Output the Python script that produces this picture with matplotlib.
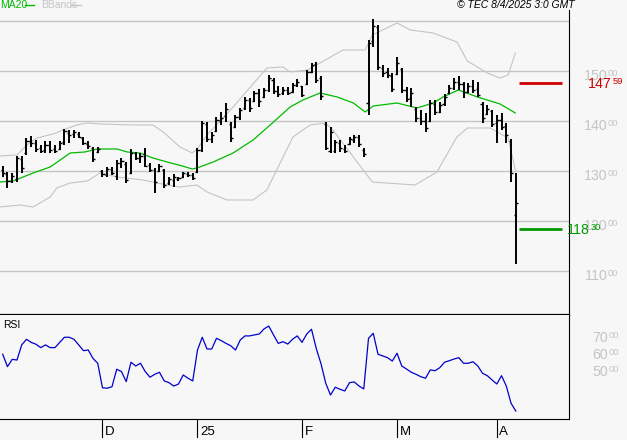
import matplotlib.pyplot as plt
import numpy as np

plt.rcParams['font.family'] = ['Liberation Sans', 'DejaVu Sans']

# daily OHLC, bar index 0 = early Nov 2024, last = 8 Apr 2025
highs = [131.0, 129.8, 129.6, 133.0, 133.0, 136.6, 137.0, 136.2, 135.2, 136.0,
         136.0, 135.2, 136.0, 138.4, 138.2, 138.2, 137.8, 136.8, 136.0, 134.8,
         134.8, 130.2, 130.8, 130.8, 132.2, 132.6, 131.8, 134.4, 133.8, 133.6,
         134.6, 131.6, 130.6, 131.4, 130.4, 128.8, 129.4, 128.8, 129.8, 129.8,
         129.6, 134.6, 140.0, 139.8, 137.8, 140.8, 141.8, 143.6, 139.8, 141.2,
         142.6, 144.8, 144.6, 146.0, 146.4, 146.6, 149.2, 148.6, 147.0, 146.8,
         146.8, 147.6, 148.4, 147.0, 150.2, 151.6, 151.8, 149.0, 139.8, 138.8,
         136.2, 136.2, 135.2, 136.8, 137.2, 137.2, 134.6, 156.2, 160.4, 159.2,
         151.2, 150.6, 149.6, 152.8, 150.6, 146.8, 146.6, 142.8, 142.2, 141.6,
         144.2, 144.2, 143.8, 145.4, 147.2, 148.6, 149.0, 147.8, 147.6, 148.2,
         147.8, 143.8, 143.2, 142.2, 141.2, 141.6, 139.6, 136.4, 129.6]
lows = [128.8, 126.6, 127.6, 127.8, 129.6, 133.2, 134.8, 133.8, 133.6, 133.6,
        133.6, 133.6, 134.2, 135.2, 135.6, 136.6, 136.6, 135.2, 134.4, 131.8,
        133.6, 128.8, 128.8, 129.2, 128.2, 130.6, 127.6, 129.4, 132.2, 131.6,
        130.8, 129.8, 125.6, 129.8, 126.6, 127.2, 126.8, 128.0, 128.6, 128.8,
        128.2, 129.6, 133.8, 135.8, 135.6, 137.8, 139.2, 139.8, 135.8, 138.6,
        140.2, 142.2, 141.8, 143.8, 142.8, 144.6, 145.8, 145.4, 144.8, 145.2,
        145.2, 145.6, 146.8, 144.8, 147.2, 149.6, 147.6, 144.2, 134.2, 133.6,
        133.6, 133.8, 133.6, 135.2, 135.6, 134.8, 132.8, 141.2, 154.8, 150.2,
        148.8, 148.6, 145.8, 149.2, 145.6, 143.8, 142.8, 139.8, 139.2, 137.8,
        139.8, 141.2, 141.6, 143.0, 145.4, 146.2, 146.2, 144.6, 145.6, 145.6,
        144.8, 139.6, 141.2, 138.8, 135.6, 138.2, 135.6, 127.8, 111.4]
opens = [130.2, 129.4, 128.0, 128.4, 132.4, 133.6, 136.0, 135.6, 134.6, 134.2,
         135.2, 134.4, 134.4, 135.8, 137.6, 137.4, 137.4, 136.6, 135.4, 134.6,
         133.8, 130.0, 129.2, 130.4, 129.0, 131.6, 131.4, 129.6, 133.6, 132.6,
         133.4, 131.2, 130.2, 130.0, 130.2, 127.6, 128.2, 128.4, 128.8, 129.4,
         129.2, 129.8, 134.2, 139.4, 136.4, 138.0, 140.0, 141.0, 139.4, 138.8,
         140.8, 142.6, 144.2, 144.0, 145.6, 144.8, 146.2, 148.2, 146.0, 145.6,
         146.2, 145.8, 147.2, 147.0, 147.4, 149.8, 151.4, 148.6, 139.4, 134.0,
         134.0, 135.6, 134.4, 135.4, 136.2, 136.8, 134.2, 143.6, 156.0, 158.8,
         150.6, 149.8, 149.0, 149.4, 150.4, 146.2, 144.6, 142.4, 140.6, 140.0,
         140.0, 143.4, 141.8, 143.4, 145.6, 146.6, 147.8, 147.4, 145.8, 147.0,
         146.4, 143.4, 141.4, 142.0, 139.6, 140.2, 139.0, 136.0, 121.2]
closes = [129.6, 128.0, 129.0, 132.6, 130.6, 136.0, 135.6, 134.4, 134.0, 135.2,
          134.2, 134.0, 135.6, 138.0, 137.2, 137.8, 136.8, 135.6, 135.0, 132.4,
          134.4, 129.4, 130.4, 129.6, 131.6, 132.0, 128.2, 133.6, 132.6, 133.0,
          131.0, 130.2, 127.8, 131.0, 127.2, 128.4, 128.8, 128.6, 129.6, 129.2,
          128.6, 134.2, 139.6, 136.4, 137.2, 140.2, 140.6, 142.4, 136.6, 140.8,
          142.2, 144.2, 142.6, 145.6, 144.0, 146.2, 148.6, 146.0, 145.4, 146.2,
          145.6, 147.2, 147.8, 145.2, 149.8, 151.2, 148.2, 145.0, 134.6, 137.8,
          135.8, 134.6, 134.0, 136.4, 136.8, 135.4, 133.4, 155.6, 159.0, 150.8,
          149.6, 149.2, 146.4, 151.6, 146.2, 144.4, 145.6, 140.6, 140.0, 138.6,
          143.6, 141.8, 143.2, 144.8, 146.6, 147.8, 147.4, 145.8, 147.0, 146.2,
          145.2, 140.6, 142.4, 139.4, 140.2, 138.8, 137.2, 129.6, 123.6]

rsi = [60.6, 53.3, 57.6, 57.2, 66.1, 69.4, 67.6, 66.5, 64.5, 66.1,
       64.5, 64.5, 67.6, 70.6, 70.6, 69.4, 66.1, 62.7, 63.1, 58.2,
       55.3, 40.9, 40.6, 41.5, 51.8, 50.4, 44.5, 55.9, 53.7, 55.3,
       50.4, 47.1, 48.8, 50.0, 44.9, 43.9, 41.9, 43.1, 48.4, 46.5,
       44.9, 63.1, 70.6, 63.7, 63.7, 70.0, 68.6, 67.0, 65.6, 63.1,
       69.0, 71.4, 71.4, 72.0, 72.5, 75.5, 77.2, 72.0, 67.0, 68.0,
       66.6, 69.4, 71.4, 67.6, 72.5, 75.3, 64.0, 55.0, 43.5, 36.6,
       41.2, 40.0, 39.0, 43.9, 44.3, 41.9, 40.2, 70.0, 72.9, 60.6,
       59.6, 58.6, 56.6, 61.2, 53.7, 51.9, 50.0, 48.8, 47.4, 46.5,
       51.4, 50.9, 52.7, 55.9, 56.8, 57.8, 58.6, 55.3, 55.3, 56.2,
       53.7, 49.4, 48.0, 45.5, 43.1, 48.0, 41.9, 31.8, 27.2]

# MA20 and Bollinger bands (bar index, price)
ma_idx = [-0.6, 2.2, 6.4, 10.0, 14.2, 17.3, 19.9, 24.1, 26.2, 28.9, 31.6, 34.6,
          37.8, 39.9, 40.9, 44.3, 48.5, 52.7, 56.3, 60.5, 63.2, 66.8, 70.4,
          73.8, 76.3, 78.0, 83.0, 87.2, 90.6, 92.7, 95.9, 99.9, 104.7, 107.9]
ma_val = [127.8, 128.0, 129.6, 130.8, 133.6, 133.8, 134.4, 134.4, 133.8, 133.6,
          132.6, 131.8, 131.0, 130.4, 130.6, 131.8, 133.6, 136.2, 139.2, 142.8,
          144.2, 145.6, 144.8, 143.6, 141.8, 143.0, 143.6, 142.6, 143.6, 144.8,
          146.2, 144.8, 143.4, 141.6]
up_idx = [-0.6, 3.0, 5.1, 7.2, 10.6, 12.7, 15.6, 17.8, 20.5, 27.4, 31.6, 33.8,
          37.3, 39.9, 41.1, 43.0, 48.5, 55.6, 59.0, 60.5, 64.1, 66.8, 71.6,
          76.3, 77.8, 83.0, 85.8, 90.6, 95.6, 97.8, 102.0, 104.7, 106.4, 107.9]
up_val = [133.0, 133.2, 135.2, 136.6, 137.4, 138.2, 139.2, 139.6, 139.4, 139.2,
          139.2, 137.8, 134.8, 133.6, 134.6, 137.2, 142.8, 150.6, 150.8, 149.8,
          150.2, 151.6, 154.2, 154.2, 157.2, 159.6, 158.2, 157.6, 155.8, 152.0,
          149.6, 148.6, 149.2, 153.6]
lo_idx = [-0.6, 3.6, 6.4, 10.0, 11.4, 14.2, 17.8, 20.5, 24.1, 29.5, 34.6, 37.3,
          40.9, 43.0, 47.2, 52.7, 55.6, 58.4, 61.1, 64.7, 67.9, 69.5, 77.8,
          86.8, 91.4, 95.6, 97.8, 102.6, 106.4, 107.9]
lo_val = [122.8, 123.2, 122.8, 124.8, 126.6, 127.6, 128.0, 129.6, 128.8, 128.2,
          127.2, 126.8, 127.2, 125.8, 124.2, 124.2, 126.2, 131.6, 136.8, 139.2,
          139.6, 138.2, 127.8, 127.2, 129.8, 136.8, 138.6, 138.6, 136.6, 130.2]

tick_pos = [21, 41, 63, 83, 104]
tick_labels = ['D', '25', 'F', 'M', 'A']
price_levels = [110, 120, 130, 140, 150]
rsi_levels = [50, 60, 70]
resistance = 147.59
last_close = 118.30

BG = '#f7f7f7'
GRAY = '#c4c4c4'
GREEN = '#00bb00'


def price_label(ax, val, big, small, color, x_pt, dy_pt, size=10.2):
    ax.annotate(big, xy=(1, val), xycoords=('axes fraction', 'data'),
                xytext=(x_pt, dy_pt), textcoords='offset points',
                ha='right', va='center', color=color, fontsize=size,
                annotation_clip=False)
    ax.annotate(small, xy=(1, val), xycoords=('axes fraction', 'data'),
                xytext=(x_pt + 0.6, dy_pt + 1.8), textcoords='offset points',
                ha='left', va='center', color=color, fontsize=size * 0.66,
                annotation_clip=False)


def main():
    fig = plt.figure(figsize=(6.27, 4.40), dpi=100, facecolor=BG)
    ax = fig.add_axes([0, 0.2841, 0.9075, 0.6932], facecolor=BG)
    ax_rsi = fig.add_axes([0, 0.0477, 0.9075, 0.2364], facecolor=BG)

    n = len(closes)
    x = np.arange(n)
    xlim = (-0.57, 119.2)

    # price panel
    for lv in price_levels + [160]:
        ax.axhline(lv, color=GRAY, lw=1.0, zorder=0)
    ax.plot(up_idx, up_val, color=GRAY, lw=0.8, zorder=1)
    ax.plot(lo_idx, lo_val, color=GRAY, lw=0.8, zorder=1)
    ax.plot(ma_idx, ma_val, color=GREEN, lw=0.9, zorder=2)
    ax.vlines(x, lows, highs, color='black', lw=1.4, zorder=3)
    ax.hlines(opens, x - 0.45, x, color='black', lw=1.0, zorder=3)
    ax.hlines(closes, x, x + 0.45, color='black', lw=1.0, zorder=3)

    ax.hlines(resistance, 108.7, 117.7, color='#cc0000', lw=2.0)
    ax.hlines(last_close, 108.7, 117.7, color='#009900', lw=2.0)

    ax.set_xlim(*xlim)
    ax.set_ylim(101.2, 162.2)
    ax.set_xticks([])
    ax.set_yticks([])
    for s in ['left', 'top']:
        ax.spines[s].set_visible(False)
    ax.spines['right'].set_linewidth(0.8)
    ax.spines['bottom'].set_linewidth(1.6)

    for lv in price_levels:
        price_label(ax, lv, str(lv), '00', GRAY, 27.5, -3.6)
    price_label(ax, resistance, '147', '59', '#cc0000', 31.0, -0.8)
    price_label(ax, last_close, '118', '30', '#009900', 14.8, -0.3)

    fig.text(0.0, 0.989, 'MA20', color=GREEN, fontsize=7.5, va='center')
    fig.add_artist(plt.Line2D([25 / 627, 34 / 627], [0.989, 0.989],
                              color=GREEN, lw=1.0))
    fig.text(41 / 627, 0.989, 'BBands', color=GRAY, fontsize=7.5, va='center')
    fig.add_artist(plt.Line2D([71 / 627, 81 / 627], [0.989, 0.989],
                              color=GRAY, lw=1.0))
    fig.text(575 / 627, 0.989, '\u00a9 TEC 8/4/2025 3:0 GMT', fontsize=7.5,
             style='italic', ha='right', va='center')

    # RSI panel
    ax_rsi.plot(x, rsi, color='#0000cc', lw=0.9)
    ax_rsi.set_xlim(*xlim)
    ax_rsi.set_ylim(22.5, 83.7)
    ax_rsi.set_xticks([])
    ax_rsi.set_yticks([])
    for s in ['left', 'top']:
        ax_rsi.spines[s].set_visible(False)
    ax_rsi.spines['right'].set_linewidth(0.8)
    ax_rsi.spines['bottom'].set_linewidth(0.8)
    ax_rsi.text(0.005, 0.9, 'RSI', transform=ax_rsi.transAxes, fontsize=7.5,
                va='center')
    for lv in rsi_levels:
        price_label(ax_rsi, lv, str(lv), '00', GRAY, 28.0, 0)

    tr = ax_rsi.get_xaxis_transform()
    for p, lab in zip(tick_pos, tick_labels):
        ax_rsi.plot([p, p], [0, -0.175], color='black', lw=0.8,
                    transform=tr, clip_on=False)
        ax_rsi.text(p + 0.5, -0.125, lab, transform=tr, fontsize=9.5,
                    ha='left', va='center')

    fig.savefig('out.png', dpi=100, facecolor=BG)


if __name__ == '__main__':
    main()
